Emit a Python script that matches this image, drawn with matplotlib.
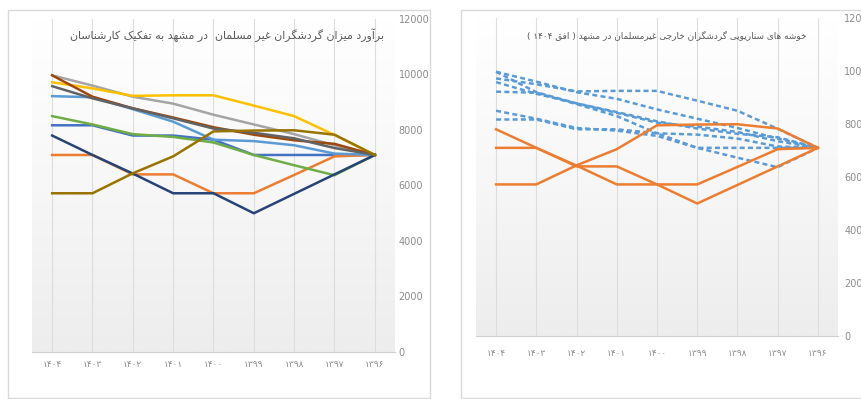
import matplotlib
matplotlib.use("Agg")
import matplotlib.pyplot as plt
import numpy as np
from matplotlib.colors import LinearSegmentedColormap
from matplotlib.patches import Rectangle

# years, left to right as drawn in the source
years = ["۱۴۰۴", "۱۴۰۳", "۱۴۰۲", "۱۴۰۱", "۱۴۰۰", "۱۳۹۹", "۱۳۹۸", "۱۳۹۷", "۱۳۹۶"]
yticks = [0, 2000, 4000, 6000, 8000, 10000, 12000]

# one estimate per expert
blue = [8170, 8170, 7800, 7800, 7650, 7100, 7100, 7100, 7100]
orange = [7100, 7100, 6400, 6400, 5720, 5720, 6380, 7050, 7100]
grey = [9970, 9600, 9200, 8950, 8550, 8200, 7850, 7450, 7100]
gold = [9720, 9500, 9230, 9250, 9250, 8880, 8500, 7820, 7100]
lightblue = [9220, 9180, 8750, 8300, 7650, 7600, 7450, 7150, 7100]
green = [8500, 8200, 7850, 7750, 7550, 7100, 6730, 6370, 7100]
darkblue = [7800, 7100, 6430, 5720, 5720, 5000, 5700, 6400, 7100]
brown = [9970, 9200, 8780, 8450, 8100, 7830, 7630, 7500, 7100]
darkgrey = [9580, 9140, 8780, 8420, 8050, 7900, 7700, 7350, 7100]
olive = [5720, 5720, 6440, 7050, 7950, 7980, 7990, 7830, 7100]

title_left = "برآورد میزان گردشگران غیر مسلمان  در مشهد به تفکیک کارشناسان"
title_right = "خوشه های سناریویی گردشگران خارجی غیرمسلمان در مشهد ( افق ۱۴۰۴ )"

# matplotlib has no arabic shaping -> map letters to presentation forms by hand
# (isolated, final, initial, medial)
FORMS = {
    "ا": ("\uFE8D", "\uFE8E", None, None),
    "آ": ("\uFE81", "\uFE82", None, None),
    "ب": ("\uFE8F", "\uFE90", "\uFE91", "\uFE92"),
    "ت": ("\uFE95", "\uFE96", "\uFE97", "\uFE98"),
    "ج": ("\uFE9D", "\uFE9E", "\uFE9F", "\uFEA0"),
    "خ": ("\uFEA5", "\uFEA6", "\uFEA7", "\uFEA8"),
    "د": ("\uFEA9", "\uFEAA", None, None),
    "ر": ("\uFEAD", "\uFEAE", None, None),
    "ز": ("\uFEAF", "\uFEB0", None, None),
    "س": ("\uFEB1", "\uFEB2", "\uFEB3", "\uFEB4"),
    "ش": ("\uFEB5", "\uFEB6", "\uFEB7", "\uFEB8"),
    "غ": ("\uFECD", "\uFECE", "\uFECF", "\uFED0"),
    "ف": ("\uFED1", "\uFED2", "\uFED3", "\uFED4"),
    "ق": ("\uFED5", "\uFED6", "\uFED7", "\uFED8"),
    "ل": ("\uFEDD", "\uFEDE", "\uFEDF", "\uFEE0"),
    "م": ("\uFEE1", "\uFEE2", "\uFEE3", "\uFEE4"),
    "ن": ("\uFEE5", "\uFEE6", "\uFEE7", "\uFEE8"),
    "ه": ("\uFEE9", "\uFEEA", "\uFEEB", "\uFEEC"),
    "و": ("\uFEED", "\uFEEE", None, None),
    "ک": ("\uFB8E", "\uFB8F", "\uFB90", "\uFB91"),
    "گ": ("\uFB92", "\uFB93", "\uFB94", "\uFB95"),
    "ی": ("\uFBFC", "\uFBFD", "\uFBFE", "\uFBFF"),
}


def shape_word(word):
    out = []
    for i, ch in enumerate(word):
        if ch not in FORMS:
            out.append(ch)
            continue
        prev = word[i - 1] if i > 0 else ""
        nxt = word[i + 1] if i + 1 < len(word) else ""
        joins_prev = prev in FORMS and FORMS[prev][2] is not None
        joins_next = FORMS[ch][2] is not None and nxt in FORMS
        iso, fin, ini, med = FORMS[ch]
        if joins_prev and joins_next:
            out.append(med)
        elif joins_prev:
            out.append(fin)
        elif joins_next:
            out.append(ini)
        else:
            out.append(iso)
    return "".join(out)


def rtl(text):
    vis = []
    for w in reversed(text.split(" ")):
        if any(c in FORMS for c in w):
            vis.append(shape_word(w)[::-1])
        else:
            vis.append(w.translate(str.maketrans("()", ")(")))
    return " ".join(vis)


W, H = 862, 399
fig = plt.figure(figsize=(W / 100, H / 100), dpi=100)
plt.rcParams["font.family"] = ["DejaVu Sans"]

bg = LinearSegmentedColormap.from_list("bg", ["#FFFFFF", "#F7F7F7", "#EDEDED"])
x = np.arange(len(years))


def setup_axes(rect, ypad, xpad):
    ax = fig.add_axes(rect)
    ax.imshow(np.linspace(0, 1, 256).reshape(-1, 1), cmap=bg, aspect="auto",
              extent=[-0.5, len(years) - 0.5, 0, 12000], origin="upper", zorder=0)
    ax.set_xlim(-0.5, len(years) - 0.5)
    ax.set_ylim(0, 12000)
    ax.set_xticks(x)
    ax.set_xticklabels(years)
    ax.set_yticks(yticks)
    ax.set_yticklabels([str(v) for v in yticks])
    ax.yaxis.tick_right()
    for s in ["top", "left", "right"]:
        ax.spines[s].set_visible(False)
    ax.spines["bottom"].set_color("#D0D0D0")
    ax.grid(axis="x", color="#DDDDDD", lw=0.8, zorder=1)
    ax.set_axisbelow(True)
    ax.tick_params(axis="both", length=0, labelsize=6.5, colors="#8C8C8C")
    ax.tick_params(axis="y", pad=ypad, labelsize=7)
    ax.tick_params(axis="x", pad=xpad)
    return ax


# left chart: every expert in its own colour
ax1 = setup_axes([32 / W, 1 - 352 / H, 363 / W, 333 / H], 2.5, 6)
series_left = [
    (blue, "#4472C4"), (orange, "#ED7D31"), (grey, "#A5A5A5"), (gold, "#FFC000"),
    (lightblue, "#5B9BD5"), (green, "#70AD47"), (darkblue, "#264478"),
    (brown, "#9E480E"), (darkgrey, "#636363"), (olive, "#997300"),
]
for vals, col in series_left:
    ax1.plot(x, vals, color=col, lw=1.8, zorder=3)

# right chart: same estimates grouped into two clusters
ax2 = setup_axes([476 / W, 1 - 336 / H, 362 / W, 318 / H], 4.5, 9)
cluster_a = [blue, grey, gold, lightblue, green, brown, darkgrey]
cluster_b = [orange, darkblue, olive]
for vals in cluster_a:
    ax2.plot(x, vals, color="#5B9BD5", lw=1.8, ls=(0, (2, 1.3)), zorder=3)
for vals in cluster_b:
    ax2.plot(x, vals, color="#ED7D31", lw=1.8, zorder=4)

fig.text(227 / W, 1 - 35 / H, rtl(title_left), ha="center", va="center",
         fontsize=7.9, color="#595959")
fig.text(667 / W, 1 - 35 / H, rtl(title_right), ha="center", va="center",
         fontsize=6.4, color="#595959")

# chart frames
fig.add_artist(Rectangle((8 / W, 1 - 398 / H), 422 / W, 388 / H, transform=fig.transFigure,
                         fill=False, ec="#D9D9D9", lw=1))
fig.add_artist(Rectangle((461 / W, 1 - 398 / H), 420 / W, 388 / H, transform=fig.transFigure,
                         fill=False, ec="#D9D9D9", lw=1))

fig.savefig("out.png", dpi=100)
